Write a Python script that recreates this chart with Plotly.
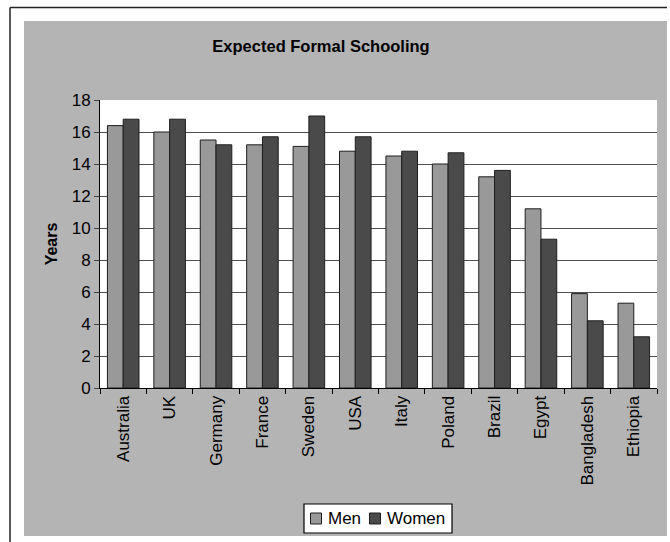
import plotly.graph_objects as go

# Expected years of formal schooling by country and sex
countries = ["Australia", "UK", "Germany", "France", "Sweden", "USA",
             "Italy", "Poland", "Brazil", "Egypt", "Bangladesh", "Ethiopia"]
men = [16.4, 16.0, 15.5, 15.2, 15.1, 14.8, 14.5, 14.0, 13.2, 11.2, 5.9, 5.3]
women = [16.8, 16.8, 15.2, 15.7, 17.0, 15.7, 14.8, 14.7, 13.6, 9.3, 4.2, 3.2]
y_ticks = [0, 2, 4, 6, 8, 10, 12, 14, 16, 18]
series_names = ["Men", "Women"]
series_colors = ["#999999", "#4a4a4a"]

W, H = 670, 542
ML, MR, MT, MB = 100, 13, 100, 154
PW, PH = W - ML - MR, H - MT - MB


def px_x(p):
    return (p - ML) / PW


def px_y(p):
    return (H - MB - p) / PH


FONT = "Liberation Sans, Arial, sans-serif"
GRAY = "#b4b4b4"
EDGE = "#1e1e1e"

fig = go.Figure()
for name, vals, col in zip(series_names, [men, women], series_colors):
    fig.add_trace(go.Bar(name=name, x=countries, y=vals, showlegend=False,
                         marker=dict(color=col, line=dict(color=EDGE, width=1))))

shapes = []
# white margin strips around the gray chart area
for x0, y0, x1, y1 in [(0, 0, 24, H), (0, 0, W, 21), (667, 0, W, H), (0, 536, W, H)]:
    shapes.append(dict(type="rect", xref="paper", yref="paper",
                       x0=px_x(x0), x1=px_x(x1), y0=px_y(y0), y1=px_y(y1),
                       fillcolor="white", line=dict(width=0), layer="above"))
# outer frame lines
shapes.append(dict(type="line", xref="paper", yref="paper",
                   x0=px_x(10), x1=px_x(667), y0=px_y(7.5), y1=px_y(7.5),
                   line=dict(color="#222222", width=1.5)))
shapes.append(dict(type="line", xref="paper", yref="paper",
                   x0=px_x(10), x1=px_x(10), y0=px_y(7.5), y1=px_y(H),
                   line=dict(color="#222222", width=1.5)))

# compact legend box below the axis labels
annotations = []
shapes.append(dict(type="rect", xref="paper", yref="paper",
                   x0=px_x(304), x1=px_x(452), y0=px_y(504), y1=px_y(533),
                   fillcolor="white", line=dict(color="black", width=1.2), layer="above"))
legend_items = [(310.5, 326), (369.5, 385)]
for (sx, tx), name, col in zip(legend_items, series_names, series_colors):
    shapes.append(dict(type="rect", xref="paper", yref="paper",
                       x0=px_x(sx), x1=px_x(sx + 11), y0=px_y(513), y1=px_y(524),
                       fillcolor=col, line=dict(color=EDGE, width=1), layer="above"))
    annotations.append(dict(text=name, xref="paper", yref="paper",
                            x=px_x(tx), y=px_y(518.5), xanchor="left", yanchor="middle",
                            showarrow=False, font=dict(size=17, family=FONT, color="black")))

fig.update_layout(
    width=W, height=H,
    margin=dict(l=ML, r=MR, t=MT, b=MB, autoexpand=False),
    paper_bgcolor=GRAY, plot_bgcolor="white",
    font=dict(family=FONT, size=17, color="black"),
    barmode="group", bargap=0.32, bargroupgap=0,
    showlegend=False,
    title=dict(text="<b>Expected Formal Schooling</b>", x=321 / W,
               xanchor="center", y=1 - 46 / H, yanchor="middle",
               font=dict(size=16.5, family=FONT, color="black")),
    xaxis=dict(showline=True, linecolor="black", linewidth=1,
               ticks="outside", ticklen=5, tickcolor="black", tickson="boundaries",
               tickangle=-90, tickfont=dict(size=17), showgrid=False),
    yaxis=dict(range=[0, 18], tickvals=y_ticks, showline=True, linecolor="black",
               linewidth=1, ticks="outside", ticklen=5, tickcolor="#444444",
               showgrid=True, gridcolor="#505050", gridwidth=1, zeroline=False,
               tickfont=dict(size=17),
               title=dict(text="<b>Years</b>", standoff=10, font=dict(size=16))),
    shapes=shapes,
    annotations=annotations,
)

fig.write_html("out.html")
